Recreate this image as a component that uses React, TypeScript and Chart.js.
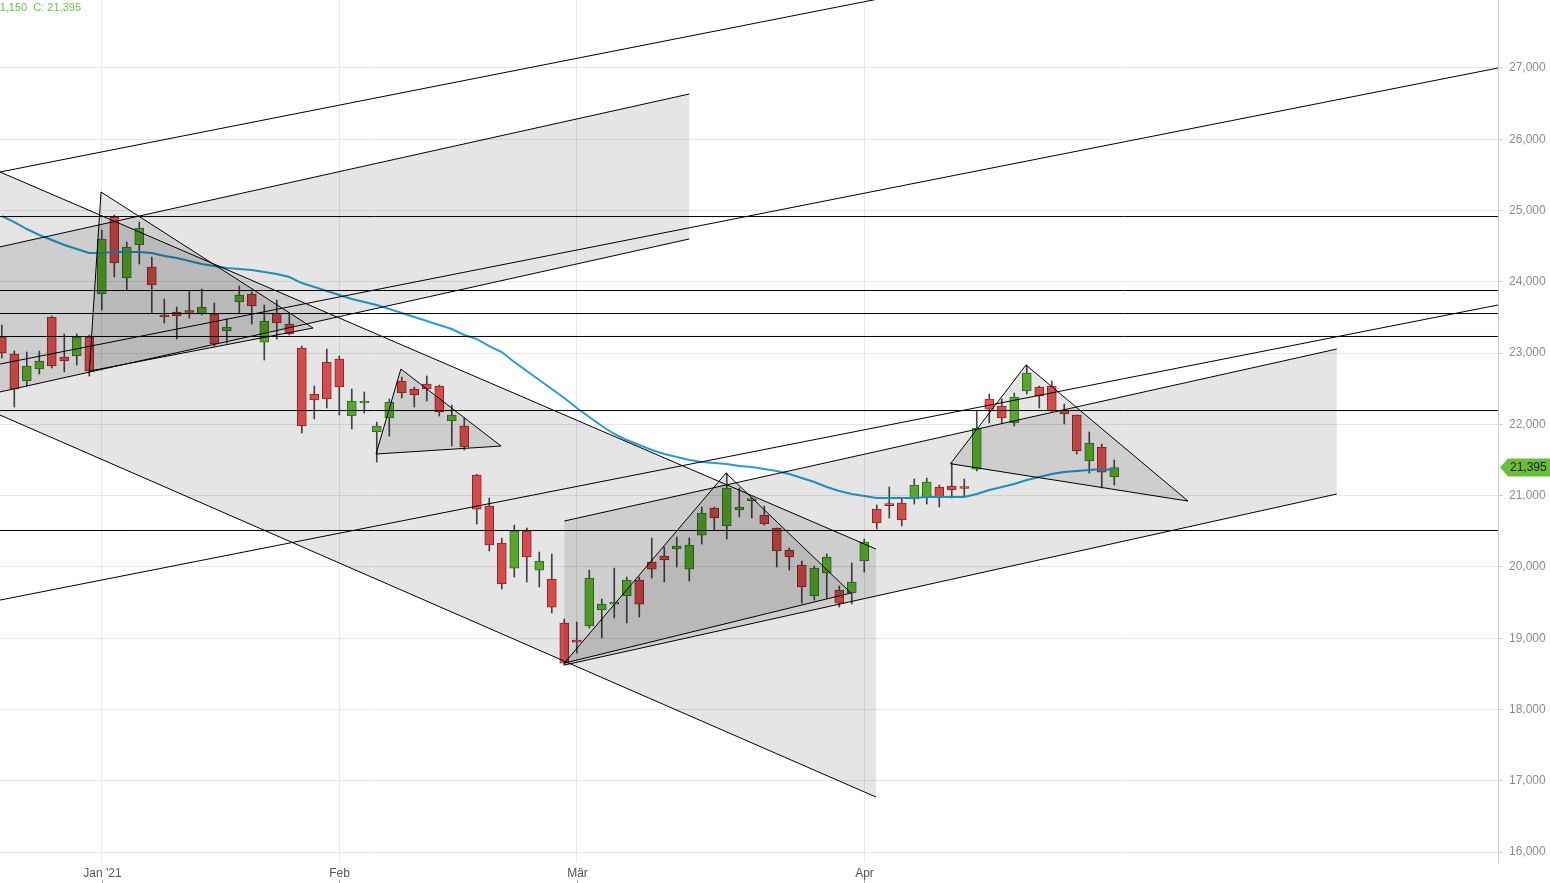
import React, { useEffect, useRef } from 'react';
import { Chart, registerables } from 'chart.js';

Chart.register(...registerables);

// ---- candle data (one entry per trading day, index 0..89) ----
const opens = [23226,22987,22608,22777,23506,22945,22959,23226,23829,24909, 24053,24516,24208,23520,23576,23583,23548,23548,23310,23717, 23829,23155,23562,23408,23071,22426,22875,22917,22117,22300, 21893,22089,22608,22496,22566,22538,22047,21977,21289,20854, 20335,19984,20504,19956,19830,19213,18974,19171,19395,19479, 19592,19816,20069,20153,20251,19970,20447,20826,20574,20798, 20931,20728,20546,20237,20026,19592,19914,19676,19634,20083, 20812,20875,20896,20953,20981,21121,21135,21114,21373,22356, 22257,22019,22468,22524,22538,22201,22131,21486,21682,21261];
const highs = [23394,23029,23015,23029,23520,23268,23268,23254,24727,24937, 24558,24839,24348,23759,23646,23871,23899,23703,23478,23941, 23857,23675,23745,23562,23099,22538,23057,22959,22496,22454, 22033,22356,22664,22524,22678,22552,22271,22089,21300,20967, 20405,20588,20546,20209,20181,19269,19227,19956,19549,19984, 19858,19858,20405,20279,20419,20405,20840,20840,21317,21107, 20981,20854,20546,20265,20083,20012,20181,19732,20055,20391, 20868,21121,20953,21233,21247,21149,21458,21233,22201,22426, 22356,22440,22833,22538,22608,22285,22131,21893,21724,21500];
const lows = [22931,22243,22538,22706,22791,22734,22833,22678,23604,24067, 23885,24250,23562,23422,23197,23492,23534,23099,23141,23562, 23408,22903,23197,23254,21879,22075,22229,22131,21935,22159, 21472,21836,22370,22243,22328,22117,21696,21640,20602,20223, 19690,19858,19788,19718,19353,18623,18792,19143,19002,19283, 19213,19297,19844,19788,19998,19802,20321,20518,20391,20700, 20686,20588,19998,19956,19493,19535,19563,19437,19479,19928, 20532,20686,20574,20882,20882,20840,20967,20995,21345,22019, 22019,21977,22426,22229,22173,22005,21584,21317,21107,21150];
const closes = [23001,22496,22819,22889,22819,22889,23226,22748,24601,24264, 24488,24755,23955,23506,23520,23569,23646,23127,23366,23815, 23661,23450,23422,23268,21977,22342,22356,22524,22328,22328, 21977,22314,22440,22412,22496,22173,22131,21682,20812,20307, 19760,20504,20139,20083,19437,18651,18946,19844,19479,19507, 19816,19479,19970,20097,20293,20307,20756,20686,21107,20840, 20945,20602,20223,20139,19718,19984,20139,19493,19788,20349, 20616,20861,20658,21149,21191,20981,21079,21100,21949,22215, 22089,22384,22720,22398,22187,22145,21626,21738,21331,21395];

// moving average (blue line)
const maValues = [24923,24839,24741,24657,24587,24516,24460,24404,24404,24418, 24418,24418,24404,24362,24334,24292,24250,24222,24194,24180, 24166,24138,24110,24067,23983,23927,23871,23815,23759,23717, 23675,23618,23562,23506,23450,23394,23338,23254,23197,23099, 23015,22875,22748,22622,22496,22370,22229,22103,21977,21865, 21780,21710,21640,21584,21542,21500,21472,21458,21444,21416, 21402,21373,21345,21303,21247,21191,21121,21065,21023,20995, 20967,20967,20967,20967,20981,20981,20981,20981,21023,21079, 21121,21163,21219,21261,21303,21331,21345,21359,21373,21359];

// x axis (months) – index of first trading day of each month
const monthTicks = [8, 27, 46, 69];
const monthLabels = ["Jan '21", 'Feb', 'Mär', 'Apr'];

// y axis range / ticks
const yMin = 15860;
const yMax = 27954;
const yTickValues = [16000, 17000, 18000, 19000, 20000, 21000, 22000, 23000, 24000, 25000, 26000, 27000];
const xMin = -0.144;
const xMax = 119.7;

// header values
const lastLow = 21150;
const lastClose = 21395;

// ---- drawings (index, value) ----
const levels = [24916, 23878, 23555, 23233, 22194, 20511];
const parallelLines = [
  [[-0.144, 25541], [80, 28310]],
  [[-0.144, 22847], [119.7, 27000]],
  [[-0.144, 19535], [119.7, 23675]],
];
const channelTops = [
  [[-0.144, 24490], [55, 26635]],
  [[-0.144, 25541], [69.94, 20251]],
  [[45, 20644], [106.8, 23057]],
];
const channelBottoms = [
  [[-0.144, 22455], [55, 24601]],
  [[-0.144, 22131], [69.94, 16771]],
  [[45, 18623], [106.8, 21023]],
];
const triangles = [
  [[7, 22748], [7.94, 25260], [24.9, 23352]],
  [[29.94, 21584], [31.93, 22777], [39.94, 21696]],
  [[45, 18650], [57.94, 21317], [67.94, 19634]],
  [[75.9, 21448], [81.94, 22833], [94.9, 20924]],
];

const FONT = 'Arial, "Liberation Sans", sans-serif';
const GREEN = '#64bc32';
const GREEN_BORDER = '#2f7a1c';
const RED = '#ea5656';
const RED_BORDER = '#a82424';
const WICK = '#4a4a4a';
const SHADE = 'rgba(0,0,0,0.1)';
const fmt = (v: number) => v.toLocaleString('en-US');

export default function App() {
  const ref = useRef<HTMLCanvasElement>(null);

  useEffect(() => {
    if (!ref.current) return;
    const idx = closes.map((_, i) => i);
    const upIdx = idx.filter((i) => closes[i] >= opens[i]);
    const downIdx = idx.filter((i) => closes[i] < opens[i]);
    const pts = (arr: number[][]) => arr.map(([x, y]) => ({ x, y }));

    const datasets: any[] = [];
    datasets.push({
      type: 'bar', label: 'wicks',
      data: idx.map((i) => ({ x: i, y: [lows[i], highs[i]] })),
      backgroundColor: WICK, borderWidth: 0, barThickness: 1, grouped: false, order: 20,
    });
    datasets.push({
      type: 'bar', label: 'up',
      data: upIdx.map((i) => ({ x: i, y: [opens[i], closes[i]] })),
      backgroundColor: GREEN, borderColor: GREEN_BORDER, borderWidth: 1, borderSkipped: false,
      barThickness: 9, minBarLength: 2, grouped: false, order: 19,
    });
    datasets.push({
      type: 'bar', label: 'down',
      data: downIdx.map((i) => ({ x: i, y: [opens[i], closes[i]] })),
      backgroundColor: RED, borderColor: RED_BORDER, borderWidth: 1, borderSkipped: false,
      barThickness: 9, minBarLength: 2, grouped: false, order: 18,
    });
    datasets.push({
      type: 'line', label: 'MA',
      data: idx.map((i) => ({ x: i, y: maValues[i] })),
      borderColor: '#2a9bcf', borderWidth: 2, pointRadius: 0, fill: false, order: 17,
    });
    // channel fills
    channelTops.forEach((top, k) => {
      const bot = channelBottoms[k];
      datasets.push({
        type: 'line', label: 'chfill' + k,
        data: pts([top[0], top[1], bot[1], bot[0]]),
        fill: 'shape', backgroundColor: SHADE, borderColor: 'transparent', borderWidth: 0,
        pointRadius: 0, order: 10,
      });
    });
    // triangles (fill + outline)
    triangles.forEach((t, k) => {
      datasets.push({
        type: 'line', label: 'tri' + k,
        data: pts([t[0], t[1], t[2], t[0]]),
        fill: 'shape', backgroundColor: SHADE, borderColor: '#000', borderWidth: 1,
        pointRadius: 0, order: 9,
      });
    });
    // channel edges and long parallels
    [...channelTops, ...channelBottoms, ...parallelLines].forEach((ln, k) => {
      datasets.push({
        type: 'line', label: 'ln' + k, data: pts(ln),
        borderColor: '#000', borderWidth: 1, pointRadius: 0, fill: false, order: 5,
      });
    });
    levels.forEach((v, k) => {
      datasets.push({
        type: 'line', label: 'lvl' + k, data: [{ x: xMin, y: v }, { x: xMax, y: v }],
        borderColor: '#000', borderWidth: 1, pointRadius: 0, fill: false, order: 4,
      });
    });

    const overlay = {
      id: 'overlay',
      afterDraw(chart: any) {
        const { ctx, scales, chartArea } = chart;
        const x = scales.x;
        const y = scales.y;
        ctx.save();
        // month labels
        ctx.font = '12px ' + FONT;
        ctx.fillStyle = '#555';
        ctx.textAlign = 'center';
        ctx.textBaseline = 'middle';
        monthTicks.forEach((v, k) => {
          const px = Math.round(x.getPixelForValue(v)) + 0.5;
          ctx.fillText(monthLabels[k], px, chartArea.bottom + 12);
          ctx.strokeStyle = '#aaa';
          ctx.lineWidth = 1;
          ctx.beginPath();
          ctx.moveTo(px, chartArea.bottom + 18);
          ctx.lineTo(px, chartArea.bottom + 22);
          ctx.stroke();
        });
        // price tag
        const py = y.getPixelForValue(lastClose);
        const r = chartArea.right;
        ctx.fillStyle = '#6cbe3a';
        ctx.beginPath();
        ctx.moveTo(r + 2, py);
        ctx.lineTo(r + 10, py - 9);
        ctx.lineTo(chart.width, py - 9);
        ctx.lineTo(chart.width, py + 9);
        ctx.lineTo(r + 10, py + 9);
        ctx.closePath();
        ctx.fill();
        ctx.fillStyle = '#1a1a1a';
        ctx.textAlign = 'left';
        ctx.fillText(fmt(lastClose), r + 12, py + 0.5);
        // header text
        ctx.font = '11px ' + FONT;
        ctx.fillStyle = '#6fbf45';
        ctx.textAlign = 'right';
        ctx.fillText('L: ' + fmt(lastLow) + '  C: ' + fmt(lastClose), 81, 8);
        ctx.restore();
      },
    };

    const chart = new Chart(ref.current, {
      type: 'line',
      data: { datasets },
      options: {
        animation: false,
        responsive: false,
        devicePixelRatio: 1,
        events: [],
        layout: { padding: 0 },
        plugins: { legend: { display: false }, tooltip: { enabled: false } },
        scales: {
          x: {
            type: 'linear', min: xMin, max: xMax, offset: false,
            grid: { color: '#e8e8e8', drawTicks: false, offset: false },
            border: { display: false },
            ticks: { display: false },
            afterBuildTicks: (s: any) => { s.ticks = monthTicks.map((v) => ({ value: v })); },
            afterFit: (s: any) => { s.height = 21; s.paddingLeft = 0; s.paddingRight = 0; },
          },
          y: {
            type: 'linear', position: 'right', min: yMin, max: yMax,
            grid: { color: '#e8e8e8', tickColor: '#d0d0d0', tickLength: 5 },
            border: { display: true, color: '#d0d0d0' },
            ticks: {
              padding: 6, color: '#8c8c8c',
              font: { family: FONT, size: 12 },
              callback: (v: any) => fmt(Number(v)),
            },
            afterBuildTicks: (s: any) => { s.ticks = yTickValues.map((v) => ({ value: v })); },
            afterFit: (s: any) => { s.width = 52; s.paddingTop = 0; s.paddingBottom = 0; },
          },
        },
      } as any,
      plugins: [overlay],
    });
    return () => chart.destroy();
  }, []);

  return (
    <div style={{ position: 'absolute', left: 0, top: 0, width: 1550, height: 883, background: '#fff' }}>
      <canvas ref={ref} width={1550} height={883} style={{ display: 'block' }} />
    </div>
  );
}
